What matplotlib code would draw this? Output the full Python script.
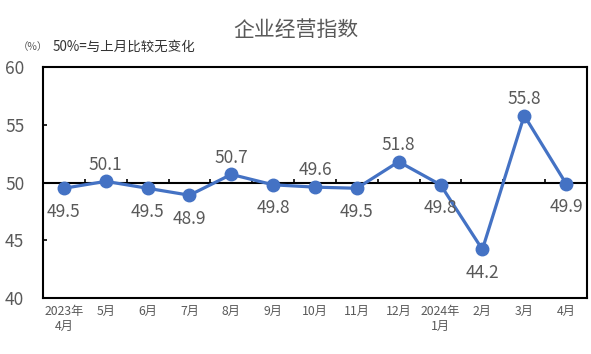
import matplotlib
matplotlib.use("Agg")
import matplotlib.pyplot as plt

plt.rcParams["font.family"] = ["Noto Sans CJK SC", "DejaVu Sans"]

months = ["2023年\n4月", "5月", "6月", "7月", "8月", "9月", "10月", "11月",
          "12月", "2024年\n1月", "2月", "3月", "4月"]
index_values = [49.5, 50.1, 49.5, 48.9, 50.7, 49.8, 49.6, 49.5, 51.8, 49.8, 44.2, 55.8, 49.9]
label_above = [False, True, False, False, True, False, True, False, True, False, False, True, False]

LINE_COLOR = "#4472C4"
TEXT_GRAY = "#595959"

fig = plt.figure(figsize=(5.91, 3.54), dpi=100)
ax = fig.add_axes([43 / 591, 1 - 298 / 354, 544 / 591, 231 / 354])

x = list(range(len(months)))
ax.plot(x, index_values, color=LINE_COLOR, linewidth=2.3, marker="o",
        markersize=9, zorder=3)

# reference line at 50 with small ticks between categories
ax.axhline(50, color="black", linewidth=1.5, zorder=2)
ax.vlines([i + 0.5 for i in range(len(months) - 1)], 50, 50.28,
          color="black", linewidth=1.2, zorder=2)

for xi, v, above in zip(x, index_values, label_above):
    dy = 12 if above else -17
    ax.annotate(f"{v:.1f}", (xi, v), xytext=(0, dy), textcoords="offset points",
                ha="center", va="center", fontsize=12.5, color=TEXT_GRAY)

ax.set_xlim(-0.5, len(months) - 0.5)
ax.set_ylim(40, 60)
ax.set_yticks([40, 45, 50, 55, 60])
ax.set_xticks(x)
ax.set_xticklabels(months, fontsize=8.8, color=TEXT_GRAY, linespacing=1.15)
ax.tick_params(axis="x", length=0, pad=5)
ax.tick_params(axis="y", direction="in", length=3, width=1.2, pad=13.5,
               labelsize=12.5, labelcolor=TEXT_GRAY)
for spine in ax.spines.values():
    spine.set_linewidth(1.5)
    spine.set_color("black")

fig.text(0.5, 1 - 30 / 354, "企业经营指数", ha="center", va="center",
         fontsize=15, color=TEXT_GRAY)
fig.text(18 / 591, 1 - 47 / 354, "（%）", ha="left", va="center",
         fontsize=7.5, color=TEXT_GRAY)
fig.text(53 / 591, 1 - 47 / 354, "50%=与上月比较无变化", ha="left", va="center",
         fontsize=9.7, color="#333333")

fig.savefig("out.png", dpi=100)
